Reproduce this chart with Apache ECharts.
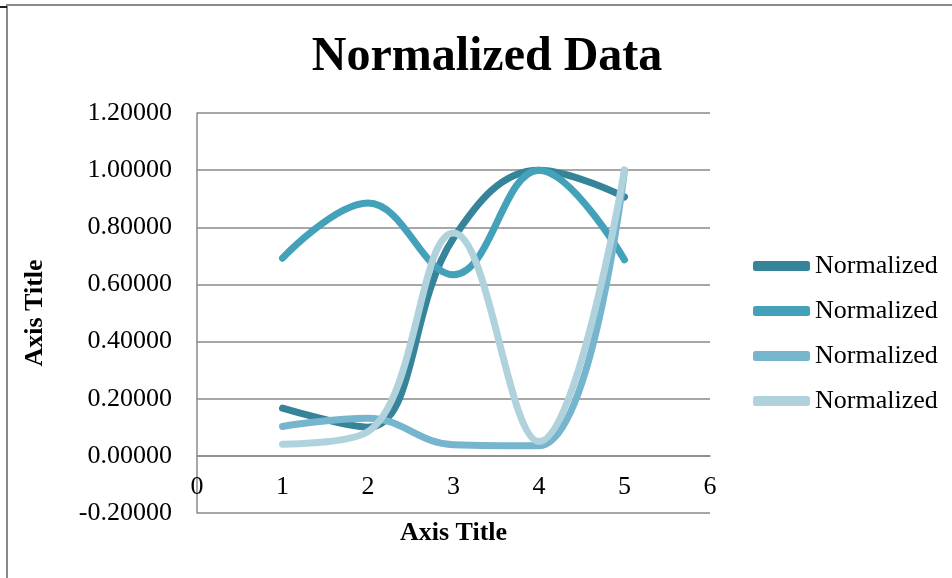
<!DOCTYPE html>
<html>
<head>
<meta charset="utf-8">
<script src="https://cdn.jsdelivr.net/npm/echarts@6/dist/echarts.min.js"></script>
<style>
  html, body { margin: 0; padding: 0; background: #fff; }
  #chart { width: 952px; height: 578px; }
  .frame { position: absolute; left: 6px; top: 4px; right: -10px; bottom: -10px;
           border-top: 2px solid #8a8a8a; border-left: 2px solid #8a8a8a; pointer-events: none; }
  .dash { position: absolute; left: 0; top: 6px; width: 7px; height: 2px; background: #222; }
</style>
</head>
<body>
<div id="chart"></div>
<div class="frame"></div>
<div class="dash"></div>
<script>
// x positions
const xValues = [1, 2, 3, 4, 5]
// four normalized series
const series1 = [0.167, 0.100, 0.762, 1.000, 0.906]
const series2 = [0.692, 0.885, 0.634, 1.000, 0.686]
const series3 = [0.103, 0.132, 0.039, 0.035, 1.000]
const series4 = [0.041, 0.085, 0.780, 0.050, 1.000]
const seriesNames = ['Normalized 1', 'Normalized 2', 'Normalized 3', 'Normalized 4']
const legendLabel = 'Normalized'
const colors = ['#36849a', '#43a1b9', '#75b6ce', '#b0d2dd']

const font = '"Liberation Serif", "Times New Roman", serif'
const allData = [series1, series2, series3, series4]

// plot box; the x axis sits on the y = 0 gridline (one step above the bottom)
const gridTop = 113
const gridBottom = 65
const plotHeight = 578 - gridTop - gridBottom
const yMin = -0.2, yMax = 1.2, yStep = 0.2
const xAxisShift = -plotHeight * (0 - yMin) / (yMax - yMin)

const chart = echarts.init(document.getElementById('chart'))

chart.setOption({
  animation: false,
  title: {
    text: 'Normalized Data',
    left: 482,
    top: 29,
    textAlign: 'center',
    textStyle: {fontFamily: font, fontSize: 48, fontWeight: 'bold', color: '#000'}
  },
  legend: {
    orient: 'vertical',
    left: 753,
    top: 253,
    padding: 0,
    itemWidth: 57,
    itemHeight: 10,
    itemGap: 19,
    icon: 'roundRect',
    formatter: () => legendLabel,
    textStyle: {fontFamily: font, fontSize: 26, color: '#000'},
    data: seriesNames
  },
  grid: {left: 197, right: 242, top: gridTop, bottom: gridBottom, outerBoundsMode: 'none', containLabel: false},
  xAxis: {
    type: 'value',
    min: 0,
    max: 6,
    interval: 1,
    offset: xAxisShift,
    name: 'Axis Title',
    nameLocation: 'middle',
    nameGap: 64,
    nameTextStyle: {fontFamily: font, fontSize: 26, fontWeight: 'bold', color: '#000'},
    axisLine: {show: true, onZero: false, lineStyle: {color: '#8a8a8a', width: 1.5}},
    axisTick: {show: false},
    splitLine: {show: false},
    axisLabel: {fontFamily: font, fontSize: 26, color: '#000', margin: 18}
  },
  yAxis: {
    type: 'value',
    min: yMin,
    max: yMax,
    interval: yStep,
    name: 'Axis Title',
    nameLocation: 'middle',
    nameGap: 149,
    nameTextStyle: {fontFamily: font, fontSize: 26, fontWeight: 'bold', color: '#000'},
    axisLine: {show: true, onZero: false, lineStyle: {color: '#8a8a8a', width: 1.5}},
    axisTick: {show: false},
    splitLine: {show: true, lineStyle: {color: '#8a8a8a', width: 1.5}},
    axisLabel: {
      fontFamily: font, fontSize: 26, color: '#000', margin: 25,
      formatter: v => (Math.abs(v) < 1e-9 ? 0 : v).toFixed(5)
    }
  },
  series: allData.map((vals, i) => ({
    name: seriesNames[i],
    type: 'line',
    smooth: 0.4,
    showSymbol: false,
    symbol: 'none',
    data: vals.map((v, j) => [xValues[j], v]),
    color: colors[i],
    lineStyle: {width: 7, color: colors[i], cap: 'round', join: 'round'},
    itemStyle: {color: colors[i]}
  }))
})
</script>
</body>
</html>
